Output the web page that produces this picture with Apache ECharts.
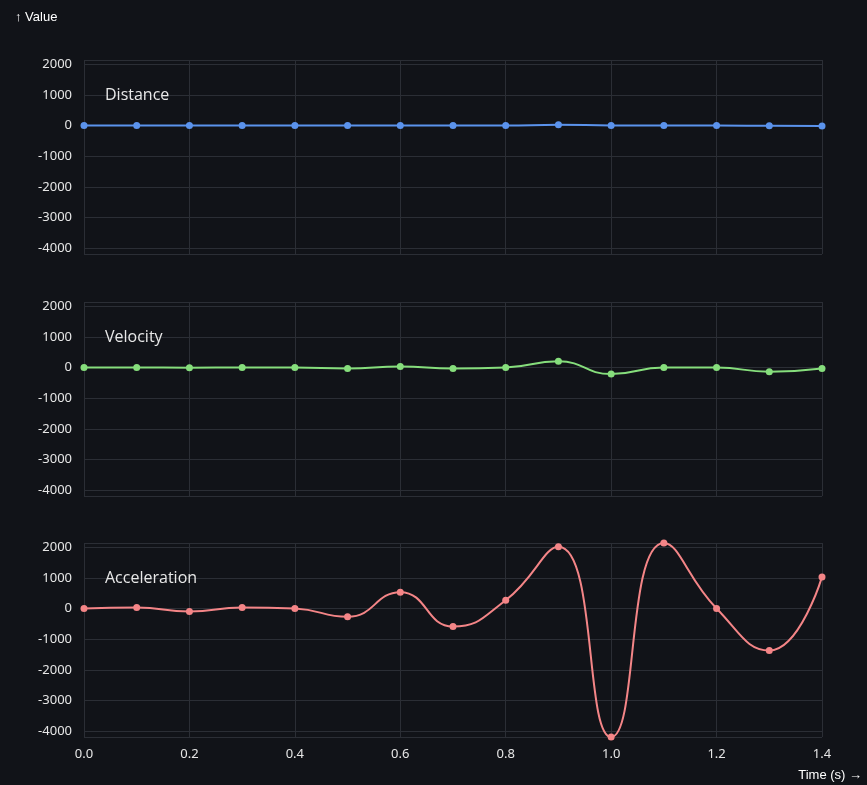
<!DOCTYPE html>
<html>
<head>
<meta charset="utf-8">
<title>Distance / Velocity / Acceleration</title>
<script src="https://cdn.jsdelivr.net/npm/echarts@6/dist/echarts.min.js"></script>
<style>
  html, body { margin: 0; padding: 0; background: #111318; }
  #chart { width: 867px; height: 785px; }
</style>
</head>
<body>
<div id="chart"></div>
<script>
// time samples (s)
const times = [0.0, 0.1, 0.2, 0.3, 0.4, 0.5, 0.6, 0.7, 0.8, 0.9, 1.0, 1.1, 1.2, 1.3, 1.4];
const distance = [0, 0, 0, 0, 0, -3, 0, -2, 0, 22, 2, 0, 0, -11, -20];
const velocity = [0, 0, -5, 0, 0, -30, 30, -30, 0, 200, -215, 0, 0, -140, -35];
const acceleration = [0, 35, -100, 35, 0, -270, 530, -590, 270, 2010, -4190, 2135, 0, -1370, 1030];

const panelNames = ['Distance', 'Velocity', 'Acceleration'];
const panelColors = ['#5b93ec', '#86de7c', '#f48587'];
const panelData = [distance, velocity, acceleration];

// shared y extent across the three panels
const all = distance.concat(velocity, acceleration);
const yMin = Math.min(...all);
const yMax = Math.max(...all);

const GRID_TOP = [60, 302, 543];
const GRID_H = 194;
const LABEL_COLOR = '#e6e6e6';
const SPLIT_COLOR = '#2b2e35';

const chart = echarts.init(document.getElementById('chart'));

const grids = GRID_TOP.map((t) => ({ left: 84, right: 45, top: t, height: GRID_H }));

const xAxes = GRID_TOP.map((_, i) => ({
  type: 'value',
  gridIndex: i,
  min: 0,
  max: 1.4,
  interval: 0.2,
  axisLine: { show: false },
  axisTick: { show: false },
  axisLabel: {
    show: i === 2,
    color: LABEL_COLOR,
    fontSize: 13,
    margin: 11,
    formatter: (v) => v.toFixed(1),
  },
  splitLine: { show: true, lineStyle: { color: SPLIT_COLOR, width: 1 } },
}));

const yAxes = GRID_TOP.map((_, i) => ({
  type: 'value',
  gridIndex: i,
  min: yMin,
  max: yMax,
  axisLine: { show: false },
  axisTick: { show: false },
  axisLabel: { color: LABEL_COLOR, fontSize: 13, margin: 12, formatter: (v) => String(v) },
  splitLine: { show: true, lineStyle: { color: SPLIT_COLOR, width: 1 } },
}));

const series = panelData.map((d, i) => ({
  name: panelNames[i],
  type: 'line',
  xAxisIndex: i,
  yAxisIndex: i,
  data: d.map((v, k) => [times[k], v]),
  smooth: true,
  symbol: 'circle',
  symbolSize: 7,
  lineStyle: { color: panelColors[i], width: 2 },
  itemStyle: { color: panelColors[i] },
}));

const titles = panelNames.map((n, i) => ({
  text: n,
  left: 100,
  top: GRID_TOP[i] + 22,
  textStyle: { color: '#e8e8e8', fontSize: 16, fontWeight: 'normal', fontFamily: 'Open Sans' },
}));

chart.setOption({
  backgroundColor: '#111318',
  animation: false,
  textStyle: { fontFamily: 'Noto Sans, sans-serif' },
  title: titles,
  grid: grids,
  xAxis: xAxes,
  yAxis: yAxes,
  series,
  graphic: [
    {
      type: 'text',
      left: 15,
      top: 11,
      style: { text: '↑ Value', fill: '#ffffff', fontSize: 13, fontFamily: 'Liberation Sans' },
    },
    {
      type: 'text',
      right: 5,
      top: 769,
      style: { text: 'Time (s) →', fill: '#ffffff', fontSize: 13, fontFamily: 'Liberation Sans' },
    },
  ],
});
</script>
</body>
</html>
